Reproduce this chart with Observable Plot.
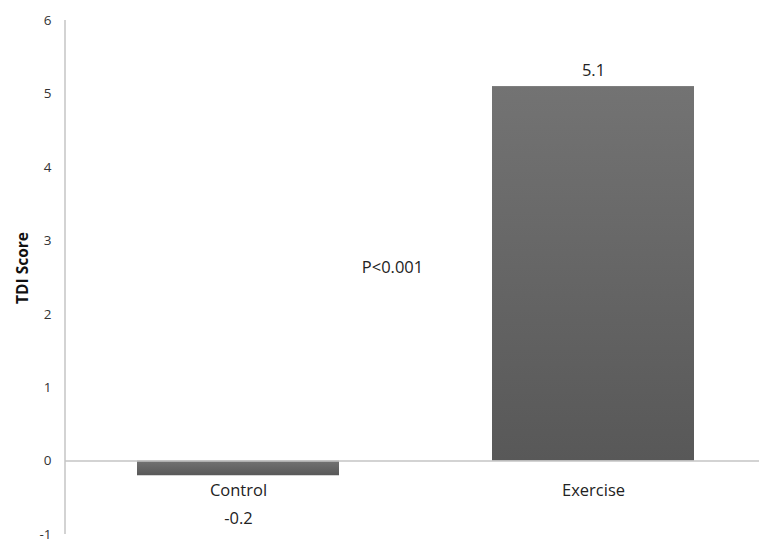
<!DOCTYPE html>
<html>
<head>
<meta charset="utf-8">
<script src="https://cdn.jsdelivr.net/npm/d3@7"></script>
<script src="https://cdn.jsdelivr.net/npm/@observablehq/plot@0.6"></script>
<style>
  html, body { margin: 0; padding: 0; background: #fff; }
  #chart { width: 759px; height: 543px; }
</style>
</head>
<body>
<div id="chart"></div>
<script>
const categories = ["Control", "Exercise"];
const values = [-0.2, 5.1];
const valueLabels = ["-0.2", "5.1"];
const yTicks = [-1, 0, 1, 2, 3, 4, 5, 6];
const yLabel = "TDI Score";
const annotationText = "P<0.001";
const annotationY = 2.63;

const data = categories.map((c, i) => ({ category: c, value: values[i], label: valueLabels[i] }));

const font = "'Open Sans', Lato, sans-serif";

const plot = Plot.plot({
  width: 759,
  height: 543,
  marginLeft: 65,
  marginRight: 0,
  marginTop: 20,
  marginBottom: 9,
  style: { fontFamily: font, background: "#fff", color: "#333" },
  x: { domain: categories, paddingInner: 0.43, paddingOuter: 0.19, align: 0.53, axis: null },
  y: { domain: [-1, 6], axis: null },
  marks: [
    // tick labels
    Plot.text(yTicks, { y: d => d, text: d => String(d), frameAnchor: "left", dx: -14, textAnchor: "end", fontSize: 13.5, fill: "#333" }),
    // bars
    Plot.barY(data, { x: "category", y: "value", fill: "url(#barGrad)" }),
    // zero line
    Plot.ruleY([0], { stroke: "#c4c4c4", strokeWidth: 1.5 }),
    // category labels
    Plot.text(data, { x: "category", y: 0, text: "category", dy: 30, fontSize: 16.5, fill: "#222" }),
    // value labels
    Plot.text(data.filter(d => d.value < 0), { x: "category", y: 0, text: "label", dy: 58, fontSize: 16.5, fill: "#222" }),
    Plot.text(data.filter(d => d.value >= 0), { x: "category", y: "value", text: "label", dy: -16, fontSize: 16.5, fill: "#222" }),
    // annotation
    Plot.text([annotationText], { y: [annotationY], text: d => d, frameAnchor: "middle", dx: -20, fontSize: 16.5, fill: "#222" })
  ]
});

const svg = d3.select(plot);
const yScale = plot.scale("y");

// gradient defs
const defs = svg.insert("defs", ":first-child");
const g = defs.append("linearGradient").attr("id", "barGrad").attr("x1", 0).attr("y1", 0).attr("x2", 0).attr("y2", 1);
g.append("stop").attr("offset", "0%").attr("stop-color", "#737373");
g.append("stop").attr("offset", "100%").attr("stop-color", "#585858");

// y axis line
svg.append("line")
  .attr("x1", 65).attr("x2", 65)
  .attr("y1", yScale.apply(yTicks[0])).attr("y2", yScale.apply(yTicks[yTicks.length - 1]))
  .attr("stroke", "#c4c4c4").attr("stroke-width", 1.5);

// y label
svg.append("text")
  .attr("transform", "translate(24,268) rotate(-90)")
  .attr("text-anchor", "middle")
  .attr("dominant-baseline", "middle")
  .attr("font-family", font)
  .attr("font-weight", "bold")
  .attr("font-size", 15.5)
  .attr("fill", "#111")
  .text(yLabel);

document.getElementById("chart").appendChild(plot);
</script>
</body>
</html>
